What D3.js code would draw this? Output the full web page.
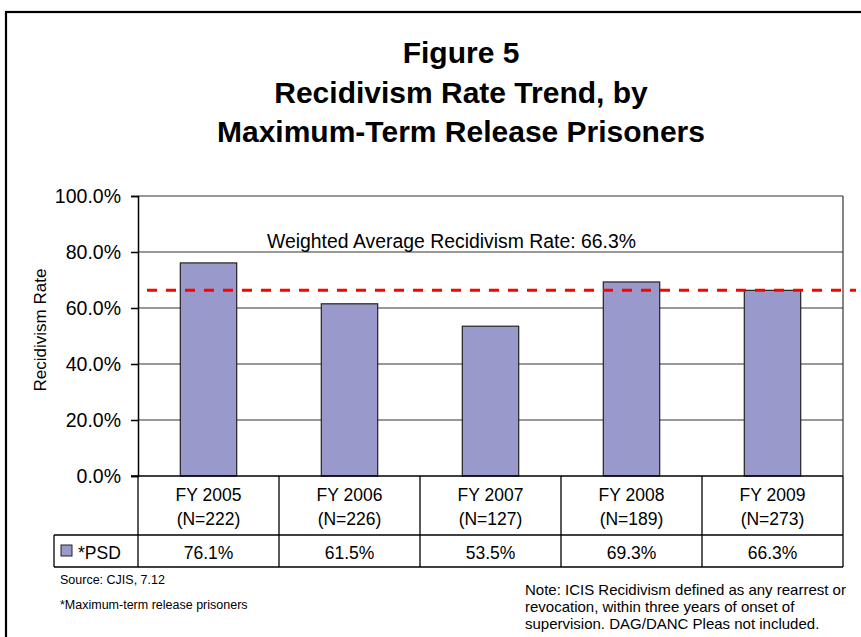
<!DOCTYPE html>
<html>
<head>
<meta charset="utf-8">
<script src="https://cdn.jsdelivr.net/npm/d3@7"></script>
<style>
  html, body { margin: 0; padding: 0; background: #fff; }
  svg { display: block; }
  text { font-family: "Liberation Sans", Arial, sans-serif; fill: #000; }
</style>
</head>
<body>
<script>
// Fiscal years and sample sizes
const years = ["FY 2005", "FY 2006", "FY 2007", "FY 2008", "FY 2009"];
const sampleSizes = ["(N=222)", "(N=226)", "(N=127)", "(N=189)", "(N=273)"];
// Recidivism rate (%) for maximum-term release prisoners
const psdRates = [76.1, 61.5, 53.5, 69.3, 66.3];
const weightedAverage = 66.3;
const yTicks = [0, 20, 40, 60, 80, 100];
const titleLines = ["Figure 5", "Recidivism Rate Trend, by", "Maximum-Term Release Prisoners"];

const W = 861, H = 637;
const svg = d3.select("body").append("svg").attr("width", W).attr("height", H);

// Outer frame
svg.append("rect").attr("x", 6).attr("y", 12).attr("width", 870).attr("height", 640)
  .attr("fill", "none").attr("stroke", "#000").attr("stroke-width", 2.2);

// Title
svg.append("g").selectAll("text").data(titleLines).join("text")
  .attr("x", 461).attr("y", (d, i) => 63 + i * 39.5)
  .attr("text-anchor", "middle").attr("font-size", 30).attr("font-weight", "bold")
  .text(d => d);

const plot = { left: 138, right: 843, top: 196, bottom: 476 };

const xCell = d3.scaleBand().domain(years).range([plot.left, plot.right]);
const y = d3.scaleLinear().domain([0, 100]).range([plot.bottom, plot.top]);
const barWidth = xCell.bandwidth() * 0.4;

// Gridlines
svg.append("g").selectAll("line").data(yTicks.filter(t => t > 0)).join("line")
  .attr("x1", plot.left).attr("x2", plot.right)
  .attr("y1", d => y(d)).attr("y2", d => y(d))
  .attr("stroke", "#333").attr("stroke-width", 1.2);
// Right border of plot
svg.append("line").attr("x1", plot.right).attr("x2", plot.right)
  .attr("y1", plot.top).attr("y2", plot.bottom).attr("stroke", "#333").attr("stroke-width", 1.2);

// Y axis
const yAxis = d3.axisLeft(y).tickValues(yTicks).tickSize(7).tickPadding(10)
  .tickFormat(d => d.toFixed(1) + "%");
const ya = svg.append("g").attr("transform", `translate(${plot.left},0)`).call(yAxis);
ya.select(".domain").attr("stroke", "#000").attr("stroke-width", 1.5);
ya.selectAll(".tick line").attr("stroke", "#000").attr("stroke-width", 1.5);
ya.selectAll(".tick text").attr("font-size", 19.5).attr("fill", "#000")
  .style("font-family", "'Liberation Sans', Arial, sans-serif");

svg.append("text").attr("transform", "translate(46,330) rotate(-90)")
  .attr("text-anchor", "middle").attr("font-size", 17).text("Recidivism Rate");

// Bars
svg.append("g").selectAll("rect").data(psdRates).join("rect")
  .attr("x", (d, i) => xCell(years[i]) + (xCell.bandwidth() - barWidth) / 2)
  .attr("width", barWidth)
  .attr("y", d => y(d)).attr("height", d => y(0) - y(d))
  .attr("fill", "#9999CC").attr("stroke", "#222").attr("stroke-width", 1.2);

// Baseline
svg.append("line").attr("x1", plot.left - 7).attr("x2", plot.right)
  .attr("y1", plot.bottom).attr("y2", plot.bottom).attr("stroke", "#000").attr("stroke-width", 1.5);

// Weighted average line and label
svg.append("line").attr("x1", 147).attr("x2", 856)
  .attr("y1", y(weightedAverage)).attr("y2", y(weightedAverage))
  .attr("stroke", "#ff0000").attr("stroke-width", 3).attr("stroke-dasharray", "10,9");
svg.append("text").attr("x", 267).attr("y", 248).attr("font-size", 19.4)
  .text("Weighted Average Recidivism Rate: " + weightedAverage.toFixed(1) + "%");

// Data table
const table = svg.append("g").attr("stroke", "#000").attr("stroke-width", 1.3);
const rowSep = 535, tableBottom = 567, legendLeft = 54;
table.append("line").attr("x1", legendLeft).attr("x2", plot.right).attr("y1", rowSep).attr("y2", rowSep);
table.append("line").attr("x1", legendLeft).attr("x2", plot.right).attr("y1", tableBottom).attr("y2", tableBottom);
table.append("line").attr("x1", legendLeft).attr("x2", legendLeft).attr("y1", rowSep).attr("y2", tableBottom);
table.selectAll("line.sep").data(years).join("line").attr("class", "sep")
  .attr("x1", d => xCell(d)).attr("x2", d => xCell(d))
  .attr("y1", plot.bottom).attr("y2", tableBottom);
table.append("line").attr("x1", plot.right).attr("x2", plot.right).attr("y1", plot.bottom).attr("y2", tableBottom);

const cells = svg.append("g").attr("text-anchor", "middle").attr("font-size", 17.5);
cells.selectAll("text.yr").data(years).join("text").attr("class", "yr")
  .attr("x", d => xCell(d) + xCell.bandwidth() / 2).attr("y", 501).text(d => d);
cells.selectAll("text.n").data(sampleSizes).join("text").attr("class", "n")
  .attr("x", (d, i) => xCell(years[i]) + xCell.bandwidth() / 2).attr("y", 525).text(d => d);
cells.selectAll("text.v").data(psdRates).join("text").attr("class", "v")
  .attr("x", (d, i) => xCell(years[i]) + xCell.bandwidth() / 2).attr("y", 559)
  .text(d => d.toFixed(1) + "%");

// Legend key in table
svg.append("rect").attr("x", 61).attr("y", 545).attr("width", 11).attr("height", 11)
  .attr("fill", "#9999CC").attr("stroke", "#222").attr("stroke-width", 1);
svg.append("text").attr("x", 78).attr("y", 559).attr("font-size", 17.5).text("*PSD");

// Footnotes
const foot = svg.append("g");
foot.append("text").attr("x", 60).attr("y", 584).attr("font-size", 12.5).text("Source: CJIS, 7.12");
foot.append("text").attr("x", 60).attr("y", 609).attr("font-size", 12.5).text("*Maximum-term release prisoners");
const notes = ["Note: ICIS Recidivism defined as any rearrest or",
               "revocation, within three years of onset of",
               "supervision. DAG/DANC Pleas not included."];
foot.selectAll("text.note").data(notes).join("text").attr("class", "note")
  .attr("x", 525).attr("y", (d, i) => 595 + i * 17).attr("font-size", 15).text(d => d);
</script>
</body>
</html>
